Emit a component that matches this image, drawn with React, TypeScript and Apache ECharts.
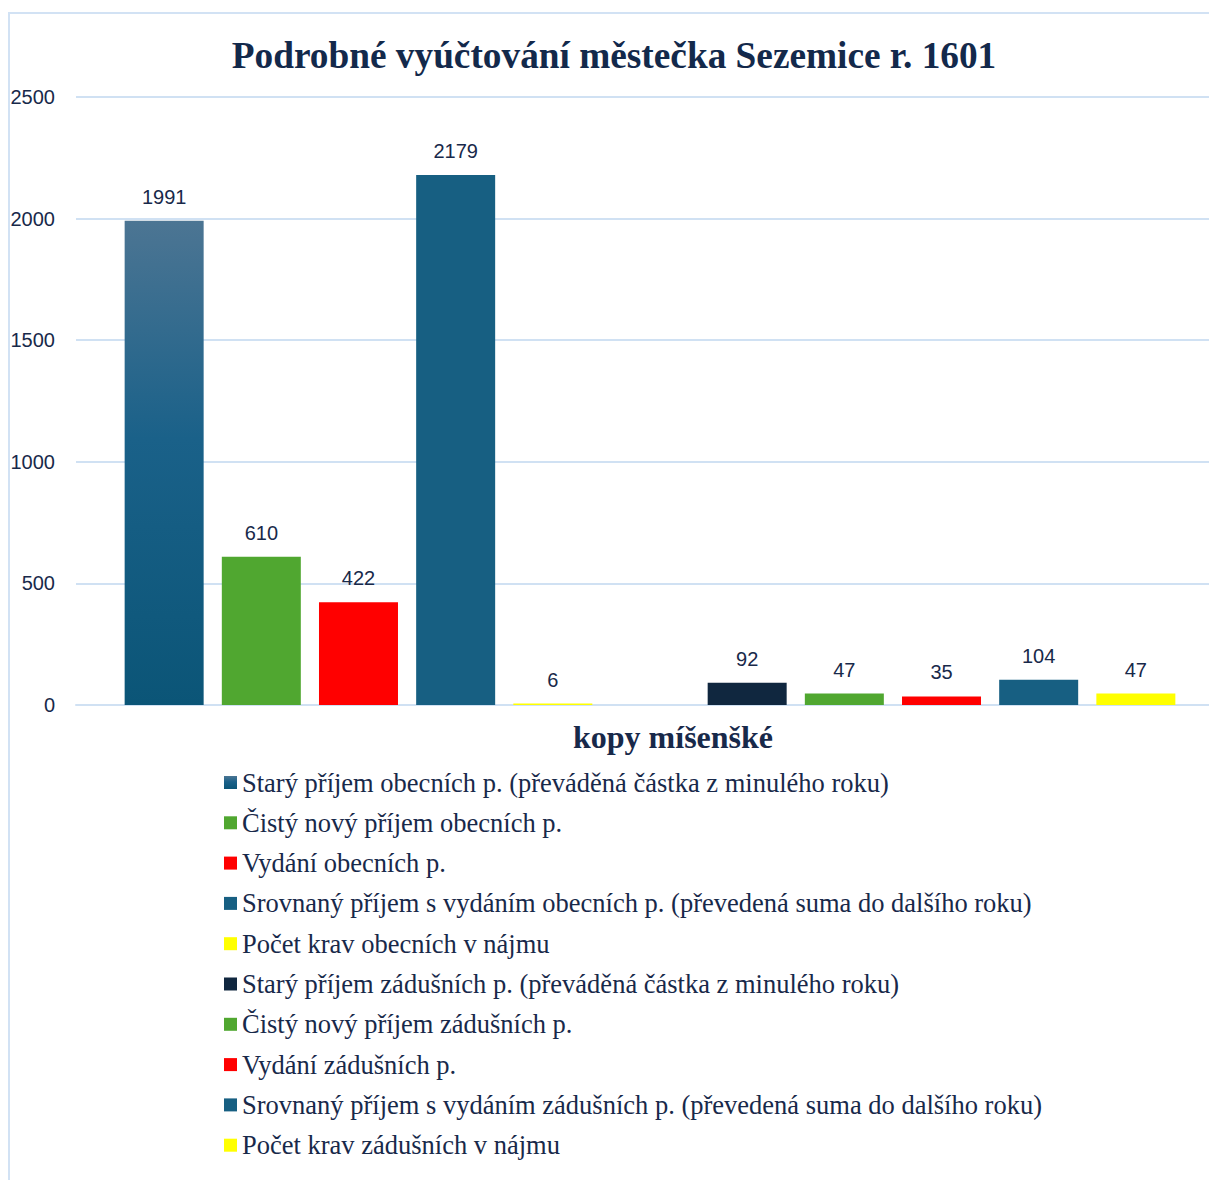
import React, { useEffect, useRef } from "react";
import * as echarts from "echarts";

const categories = ["kopy míšenšké"];
const seriesNames = [
  "Starý příjem obecních p. (převáděná částka z minulého roku)",
  "Čistý nový příjem obecních p.",
  "Vydání obecních p.",
  "Srovnaný příjem s vydáním obecních p. (převedená suma do dalšího roku)",
  "Počet krav obecních v nájmu",
  "",
  "Starý příjem zádušních p. (převáděná částka z minulého roku)",
  "Čistý nový příjem zádušních p.",
  "Vydání zádušních p.",
  "Srovnaný příjem s vydáním zádušních p. (převedená suma do dalšího roku)",
  "Počet krav zádušních v nájmu",
];
const seriesValues: (number | null)[] = [1991, 610, 422, 2179, 6, null, 92, 47, 35, 104, 47];
const yTicks = { min: 0, max: 2500, interval: 500 };

const gradBlue = new echarts.graphic.LinearGradient(0, 0, 0, 1, [
  { offset: 0, color: "#4c7593" },
  { offset: 0.45, color: "#1a6189" },
  { offset: 1, color: "#0b5577" },
]);
const seriesColors: any[] = [
  gradBlue,
  "#50a730",
  "#ff0000",
  "#175f82",
  "#ffff00",
  "transparent",
  "#10273f",
  "#50a730",
  "#ff0000",
  "#175f82",
  "#ffff00",
];

const TEXT = "#18294a";
const SERIF = "'Liberation Serif', 'Times New Roman', serif";
const SANS = "'Liberation Sans', Arial, sans-serif";

export default function App() {
  const ref = useRef<HTMLDivElement>(null);
  useEffect(() => {
    if (!ref.current) return;
    const chart = echarts.init(ref.current, undefined, { renderer: "svg" });
    chart.setOption({
      animation: false,
      backgroundColor: "#ffffff",
      graphic: [
        {
          type: "rect",
          shape: { x: 9, y: 13, width: 2000, height: 2000 },
          style: { fill: "none", stroke: "#d2e2f4", lineWidth: 2 },
          silent: true,
        },
        {
          type: "text",
          x: 614,
          y: 37,
          style: {
            text: "Podrobné vyúčtování městečka Sezemice r. 1601",
            font: "bold 37.3px " + SERIF,
            fill: "#13294b",
            textAlign: "center",
            textVerticalAlign: "top",
          },
        },
      ],
      legend: {
        orient: "vertical",
        left: 219,
        top: 764,
        height: 410,
        itemWidth: 13,
        itemHeight: 13,
        itemGap: 13.3,
        icon: "rect",
        data: seriesNames.filter((n) => n !== ""),
        textStyle: {
          fontFamily: SERIF,
          fontSize: 26.5,
          color: TEXT,
        },
      },
      grid: { left: 76, right: 0, top: 97, height: 608, containLabel: false },
      xAxis: {
        type: "category",
        data: categories,
        axisLine: { show: true, lineStyle: { color: "#d0e1f3", width: 2 } },
        axisTick: { show: false },
        axisLabel: {
          margin: 16,
          fontFamily: SERIF,
          fontWeight: "bold",
          fontSize: 32,
          color: TEXT,
          padding: [0, 0, 0, 46],
        },
      },
      yAxis: {
        type: "value",
        min: yTicks.min,
        max: yTicks.max,
        interval: yTicks.interval,
        axisLine: { show: false },
        axisTick: { show: false },
        splitLine: { lineStyle: { color: "#d0e1f3", width: 2 } },
        axisLabel: {
          margin: 21,
          fontFamily: SANS,
          fontSize: 20,
          color: TEXT,
          formatter: (v: number) => String(v),
        },
      },
      series: seriesNames.map((name, i) => ({
        type: "bar",
        name,
        data: [seriesValues[i]],
        barWidth: 79,
        barGap: "23%",
        itemStyle: { color: seriesColors[i] },
        label: {
          show: seriesValues[i] !== null,
          position: "top",
          distance: 14,
          fontFamily: SANS,
          fontSize: 20,
          color: TEXT,
        },
      })),
    });
    return () => chart.dispose();
  }, []);
  return (
    <div
      style={{
        position: "absolute",
        left: 0,
        top: 0,
        width: 1209,
        height: 1180,
        overflow: "hidden",
        background: "#ffffff",
      }}
    >
      <div ref={ref} style={{ width: 1224, height: 1180 }} />
    </div>
  );
}
